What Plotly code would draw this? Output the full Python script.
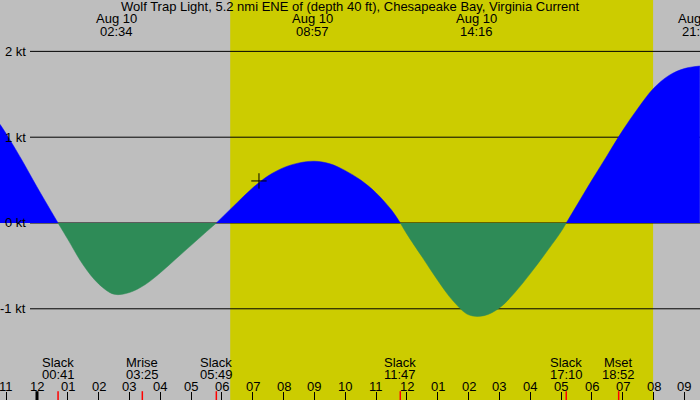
import plotly.graph_objects as go

# Current prediction (hours from midnight Aug 10, knots)
hours = [-1.2, -1.0, -0.5, 0.0, 0.683, 1.0, 1.5, 2.0, 2.5, 3.0, 3.5, 4.0,
         4.5, 5.0, 5.5, 5.817, 6.5, 7.0, 7.5, 8.0, 8.5, 9.0, 9.5, 10.0,
         10.5, 11.0, 11.5, 11.783, 12.0, 12.5, 13.0, 13.5, 14.0, 14.5,
         15.0, 15.5, 16.0, 16.5, 17.0, 17.167, 17.5, 18.0, 18.5, 19.0, 19.5,
         20.0, 20.5, 21.0, 21.5]
knots = [1.15, 1.04, 0.74, 0.42, 0.0, -0.19, -0.49, -0.71, -0.83, -0.81, -0.72,
         -0.58, -0.42, -0.26, -0.10, 0.0, 0.24, 0.41, 0.55, 0.645, 0.70,
         0.72, 0.69, 0.61, 0.50, 0.35, 0.15, 0.0, -0.13, -0.40, -0.67, -0.91,
         -1.07, -1.08, -0.99, -0.81, -0.59, -0.35, -0.10, 0.0, 0.20,
         0.50, 0.79, 1.08, 1.34, 1.57, 1.72, 1.80, 1.83]

# max flood / ebb labels along the top
peak_dates = ["Aug 10", "Aug 10", "Aug 10", "Aug 10"]
peak_times = ["02:34", "08:57", "14:16", "21:28"]

# slack water and moon events along the bottom
event_names = ["Slack", "Mrise", "Slack", "Slack", "Slack", "Mset"]
event_times = ["00:41", "03:25", "05:49", "11:47", "17:10", "18:52"]

sunrise = "06:16"
sunset = "19:59"

level_values = [2, 1, 0, -1]
level_labels = ["2 kt", "1 kt", "0 kt", "-1 kt"]

hour_ticks = list(range(-1, 22))
hour_labels = ["11", "12", "01", "02", "03", "04", "05", "06", "07", "08",
               "09", "10", "11", "12", "01", "02", "03", "04", "05", "06",
               "07", "08", "09"]

now_hour = [7.2]
now_knots = [0.49]

TITLE = "Wolf Trap Light, 5.2 nmi ENE of (depth 40 ft), Chesapeake Bay, Virginia Current"
FONT = dict(family="Liberation Sans, Arial, sans-serif", size=13, color="black")


def to_hours(hhmm):
    h, m = hhmm.split(":")
    return int(h) + int(m) / 60.0


def split_segments(xs, ys):
    """
    Break the curve into flood / ebb pieces at the slack (zero) points.
    """
    segments = []
    cur_x, cur_y = [xs[0]], [ys[0]]
    for x, y in zip(xs[1:], ys[1:]):
        cur_x.append(x)
        cur_y.append(y)
        if y == 0:
            segments.append((cur_x, cur_y))
            cur_x, cur_y = [x], [y]
    if len(cur_x) > 1:
        segments.append((cur_x, cur_y))
    return segments


def build_figure():
    fig = go.Figure()

    for seg_x, seg_y in split_segments(hours, knots):
        flood = sum(seg_y) > 0
        color = "#0000ff" if flood else "#2e8b57"
        fig.add_trace(go.Scatter(
            x=seg_x, y=seg_y,
            mode="lines",
            line=dict(color=color, width=0.5, shape="spline", smoothing=1),
            fill="tozeroy",
            fillcolor=color,
            hoverinfo="skip"))

    fig.add_trace(go.Scatter(
        x=now_hour, y=now_knots,
        mode="markers",
        marker=dict(symbol="cross-thin", size=11, line=dict(width=1, color="black")),
        hoverinfo="skip"))

    shapes = []
    # daylight
    shapes.append(dict(type="rect", xref="x", yref="paper",
                       x0=to_hours(sunrise), x1=to_hours(sunset), y0=0, y1=1,
                       fillcolor="#cccc00", line_width=0, layer="below"))
    # knot levels
    for v in level_values:
        shapes.append(dict(type="line", xref="paper", yref="y",
                           x0=30 / 700, x1=1, y0=v, y1=v,
                           line=dict(color="black", width=1), layer="below"))
    # midnight tick
    shapes.append(dict(type="line", xref="x", yref="paper", x0=0, x1=0,
                       y0=0, y1=0.022, line=dict(color="black", width=3)))
    # event ticks
    for t in event_times:
        h = to_hours(t)
        shapes.append(dict(type="line", xref="x", yref="paper", x0=h, x1=h,
                           y0=0, y1=0.022, line=dict(color="red", width=1.5)))

    annotations = [dict(text=TITLE, xref="paper", yref="paper", x=0.5, y=1 - 7 / 400,
                        showarrow=False, font=FONT, yanchor="middle")]
    for d, t in zip(peak_dates, peak_times):
        h = to_hours(t)
        annotations.append(dict(text=d, x=h, y=1 - 18 / 400, xref="x", yref="paper",
                                showarrow=False, font=FONT, yanchor="middle"))
        annotations.append(dict(text=t, x=h, y=1 - 31 / 400, xref="x", yref="paper",
                                showarrow=False, font=FONT, yanchor="middle"))
    for name, t in zip(event_names, event_times):
        h = to_hours(t)
        annotations.append(dict(text=name, x=h, y=1 - 362 / 400, xref="x", yref="paper",
                                showarrow=False, font=FONT, yanchor="middle"))
        annotations.append(dict(text=t, x=h, y=1 - 374 / 400, xref="x", yref="paper",
                                showarrow=False, font=FONT, yanchor="middle"))
    for h, lab in zip(hour_ticks, hour_labels):
        annotations.append(dict(text=lab, x=h, y=1 - 386 / 400, xref="x", yref="paper",
                                showarrow=False, font=FONT, yanchor="middle"))
    for v, lab in zip(level_values, level_labels):
        annotations.append(dict(text=lab, x=28 / 700, y=v, xref="paper", yref="y",
                                showarrow=False, font=FONT, xanchor="right",
                                yanchor="middle"))

    fig.update_layout(
        width=700, height=400,
        margin=dict(l=0, r=0, t=0, b=0),
        paper_bgcolor="#bebebe",
        plot_bgcolor="#bebebe",
        showlegend=False,
        shapes=shapes,
        annotations=annotations,
        xaxis=dict(range=[-1.2, 21.505], showgrid=False, zeroline=False,
                   showline=False, showticklabels=False,
                   ticks="inside", ticklen=8, tickwidth=1, tickcolor="black",
                   tickmode="array", tickvals=hour_ticks),
        yaxis=dict(range=[-2.063, 2.599], showgrid=False, zeroline=False,
                   showline=False, showticklabels=False, ticks=""))
    return fig


def main():
    fig = build_figure()
    # drop the page margin so the chart sits in the window corner
    fig.write_html("out.html", config={"displayModeBar": False},
                   post_script="document.body.style.margin='0';")


if __name__ == "__main__":
    main()
